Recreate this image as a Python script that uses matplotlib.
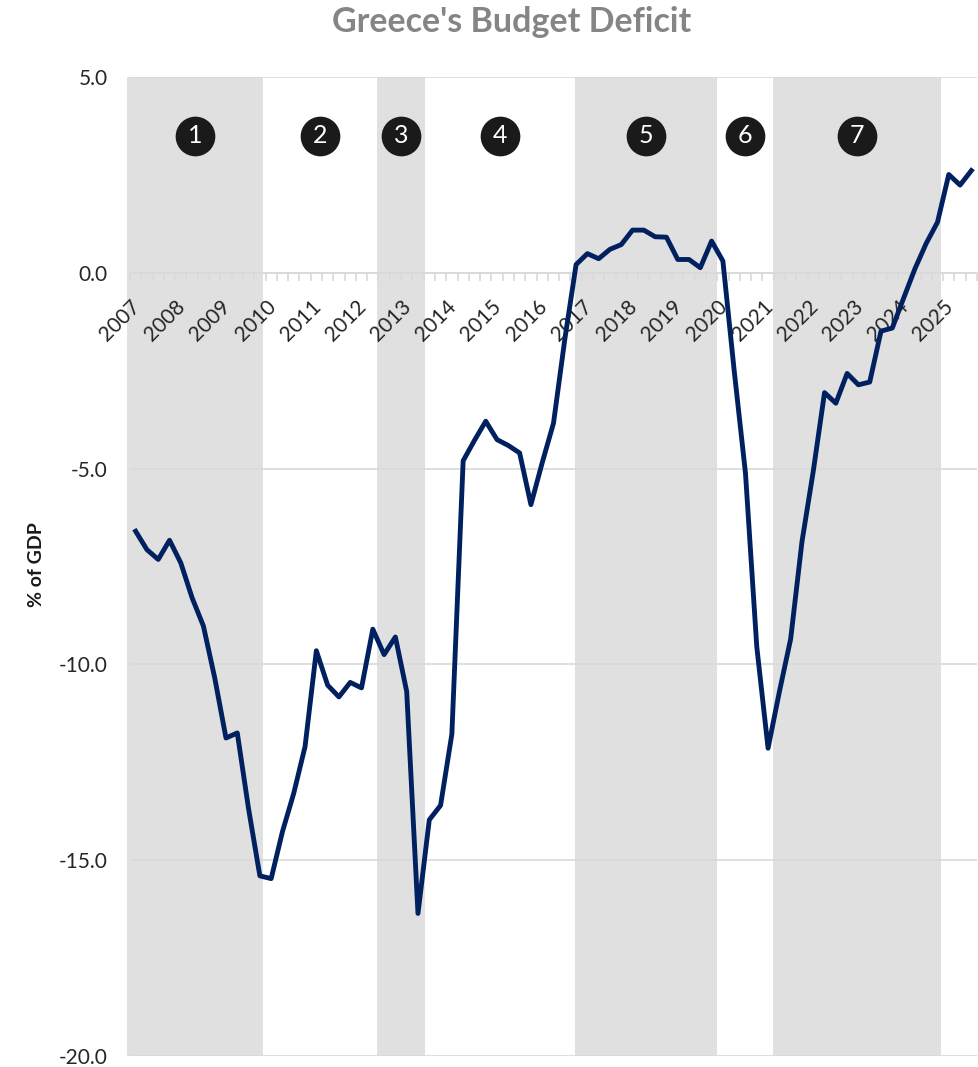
import numpy as np
import matplotlib
matplotlib.use('Agg')
import matplotlib.pyplot as plt
import matplotlib.transforms as mtransforms

# quarterly budget balance, % of GDP, 2007Q1 .. 2025Q3
years = list(range(2007, 2026))
deficit = [-6.60, -7.07, -7.32, -6.83, -7.41, -8.30, -9.02, -10.34,
           -11.88, -11.75, -13.69, -15.40, -15.47, -14.27, -13.29, -12.10,
           -9.65, -10.53, -10.83, -10.46, -10.60, -9.10, -9.75, -9.30,
           -10.69, -16.36, -13.97, -13.60, -11.78, -4.80, -4.28, -3.79,
           -4.26, -4.41, -4.60, -5.92, -4.85, -3.84, -1.70, 0.21,
           0.49, 0.36, 0.60, 0.72, 1.09, 1.09, 0.92, 0.91,
           0.34, 0.34, 0.13, 0.81, 0.30, -2.50, -5.12, -9.55,
           -12.14, -10.70, -9.35, -6.87, -5.07, -3.06, -3.33, -2.57,
           -2.86, -2.79, -1.49, -1.41, -0.65, 0.10, 0.75, 1.29,
           2.51, 2.24, 2.61]

# boundaries of the seven periods (in quarter positions)
period_edges = [-0.77, 11.28, 21.38, 25.63, 38.9, 51.5, 56.4, 71.3, 74.5]
period_labels = ['1', '2', '3', '4', '5', '6', '7']

plt.rcParams['font.family'] = ['Lato', 'DejaVu Sans']

fig = plt.figure(figsize=(9.79, 10.67), dpi=100)
ax = fig.add_axes([130/979, 1 - 1056/1067, 847/979, (1056 - 77)/1067])

x = np.arange(len(deficit))

# shaded periods (every other one)
for k in range(0, len(period_edges) - 1, 2):
    ax.axvspan(period_edges[k], period_edges[k + 1], color='#e0e0e0',
               lw=0, zorder=0, clip_on=False)

ax.plot(x, deficit, color='#002060', lw=3.5, solid_joinstyle='round', zorder=4)

# numbered markers
centers = [(period_edges[k] + period_edges[k + 1]) / 2 for k in range(len(period_labels))]
ax.scatter(centers, [3.5] * len(centers), s=760, color='#1a1a1a', zorder=5, clip_on=False)
for c, lab in zip(centers, period_labels):
    ax.text(c, 3.5, lab, color='white', fontsize=18, ha='center', va='center',
            zorder=6)

ax.set_xlim(-0.5, len(deficit) - 0.5)
ax.set_ylim(-20, 5)
ax.set_yticks([-20, -15, -10, -5, 0, 5])
ax.set_yticklabels(['%.1f' % v for v in [-20, -15, -10, -5, 0, 5]])
ax.yaxis.grid(True, color='#d9d9d9', lw=1.2)
ax.set_axisbelow(True)

for s in ['left', 'right', 'top']:
    ax.spines[s].set_visible(False)
ax.spines['bottom'].set_position(('data', 0))
ax.spines['bottom'].set_color('#d9d9d9')
ax.spines['bottom'].set_linewidth(1.2)

ax.set_xticks(np.arange(0, len(deficit), 4))
ax.set_xticklabels([str(y) for y in years])
ax.set_xticks(np.arange(-0.5, len(deficit), 1), minor=True)
ax.tick_params(axis='x', which='major', length=0, pad=17, labelsize=15,
               labelcolor='#262626')
ax.tick_params(axis='x', which='minor', length=6, width=1.2, color='#d9d9d9')
ax.tick_params(axis='y', length=0, pad=16, labelsize=15, labelcolor='#262626')
offset = mtransforms.ScaledTranslation(-4/72, 0, fig.dpi_scale_trans)
for lbl in ax.get_xticklabels():
    lbl.set_rotation(45)
    lbl.set_ha('right')
    lbl.set_rotation_mode('anchor')
    lbl.set_transform(lbl.get_transform() + offset)

fig.text(512/979, 1 - 22/1067, "Greece's Budget Deficit", ha='center', va='center',
         fontsize=24.5, fontweight='bold', color='#858585')
fig.text(37/979, 1 - 565/1067, '% of GDP', rotation=90, ha='center', va='center',
         fontsize=14, fontweight='bold', color='#1a1a1a')

fig.savefig('out.png', dpi=100)
